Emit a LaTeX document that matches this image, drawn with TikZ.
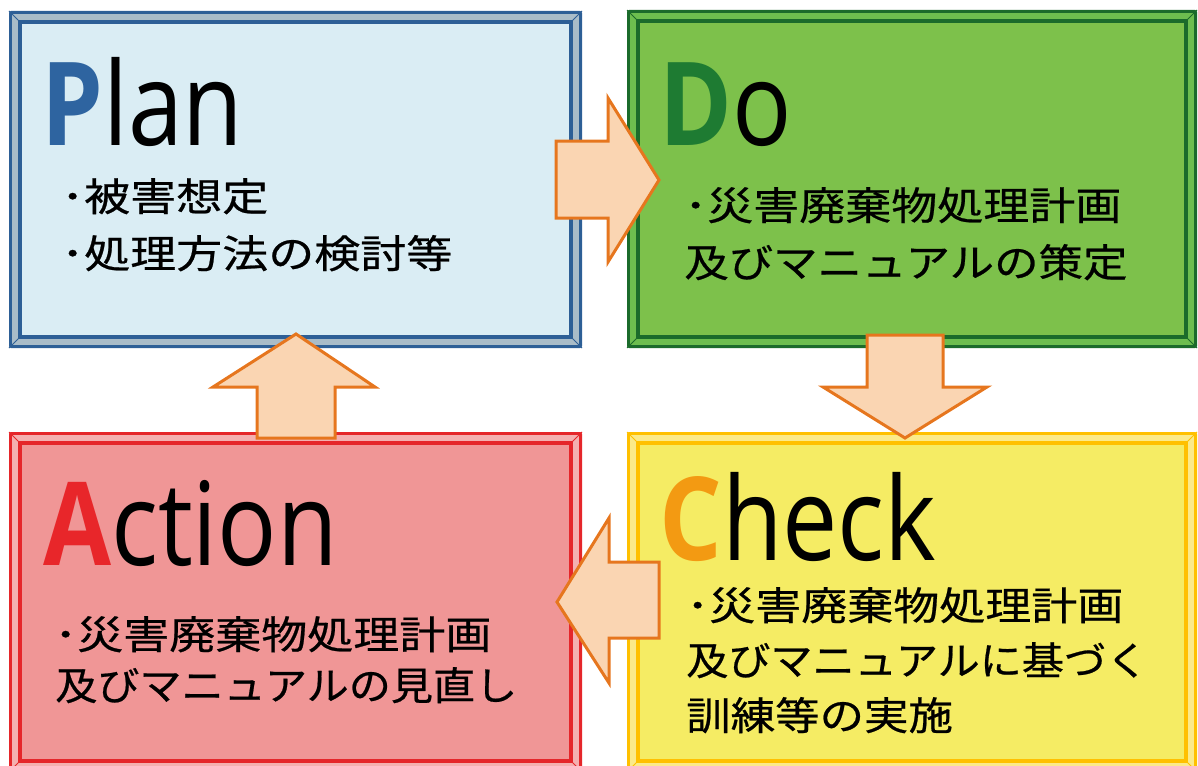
\documentclass[tikz,border=0pt]{standalone}
\usepackage{fontspec}
\newfontfamily\latinf[FakeStretch=0.85]{Open Sans}
\newfontfamily\jpf[FakeStretch=1.18,FakeBold=0.6]{Noto Sans CJK JP}
\newfontfamily\jpm[FakeStretch=1.14,FakeBold=0.6]{Noto Sans CJK JP}
\newfontfamily\jpn[FakeStretch=1.08,FakeBold=0.6]{Noto Sans CJK JP}
\definecolor{pdark}{HTML}{2D5F96}
\definecolor{plight}{HTML}{A9BCC8}
\definecolor{pfill}{HTML}{DAEDF4}
\definecolor{ddark}{HTML}{1B6B2B}
\definecolor{dlight}{HTML}{6DBE4F}
\definecolor{dfill}{HTML}{7DC14B}
\definecolor{cdark}{HTML}{FFC000}
\definecolor{clight}{HTML}{FBEA8A}
\definecolor{cfill}{HTML}{F5EC64}
\definecolor{adark}{HTML}{E5262A}
\definecolor{alight}{HTML}{F4B0B0}
\definecolor{afill}{HTML}{F09696}
\definecolor{pletter}{HTML}{2E64A0}
\definecolor{dletter}{HTML}{1E7B32}
\definecolor{cletter}{HTML}{F39A12}
\definecolor{aletter}{HTML}{E8262A}
\definecolor{arrfill}{HTML}{FAD5B2}
\definecolor{arrline}{HTML}{E6761E}
\newcommand\pdcaframe[7]{%
  \fill[#5, rounded corners=2] (#1,#2) rectangle (#3,#4);
  \fill[#6] ({#1+3},{#2+3}) rectangle ({#3-3},{#4-3});
  \fill[#5] ({#1+9},{#2+9}) rectangle ({#3-9},{#4-9});
  \fill[#7] ({#1+13},{#2+13}) rectangle ({#3-13},{#4-13});
  \draw[#5, line width=1] (#1,#2) -- ({#1+13},{#2+13});
  \draw[#5, line width=1] (#3,#2) -- ({#3-13},{#2+13});
  \draw[#5, line width=1] (#1,#4) -- ({#1+13},{#4-13});
  \draw[#5, line width=1] (#3,#4) -- ({#3-13},{#4-13});
}
\tikzset{
  jptext/.style={anchor=base west, inner sep=0, font=\jpf\fontsize{39}{39}\selectfont},
  jpmid/.style={anchor=base west, inner sep=0, font=\jpm\fontsize{39}{39}\selectfont},
  jpnarrow/.style={anchor=base west, inner sep=0, font=\jpn\fontsize{39}{39}\selectfont},
  bigtitle/.style={anchor=base west, inner sep=0, font=\latinf\fontsize{116}{116}\selectfont},
  blockarrow/.style={fill=arrfill, draw=arrline, line width=3, line join=miter},
}
\begin{document}
\begin{tikzpicture}[x=1pt,y=-1pt]
\useasboundingbox (0,0) rectangle (1198,765);
\clip (0,0) rectangle (1198,765);
% boxes
\pdcaframe{9}{11}{582}{348}{pdark}{plight}{pfill}
\pdcaframe{627}{10}{1197}{348}{ddark}{dlight}{dfill}
\pdcaframe{627}{432}{1197}{772}{cdark}{clight}{cfill}
\pdcaframe{9}{432}{582}{772}{adark}{alight}{afill}
\coordinate (plan) at (295,180);
\coordinate (do) at (912,180);
\coordinate (check) at (912,600);
\coordinate (action) at (295,600);
% titles
\node[bigtitle] (plant) at (41,145) {\textcolor{pletter}{\bfseries P}lan};
\node[bigtitle] (dot) at (659,145) {\textcolor{dletter}{\bfseries D}o};
\node[bigtitle] (checkt) at (659,560) {\textcolor{cletter}{\bfseries C}heck};
\node[bigtitle] (actiont) at (43,565) {\textcolor{aletter}{\bfseries A}ction};
% texts
\node[jptext] (plan1) at (61,211) {･被害想定};
\node[jptext] (plan2) at (61,268) {･処理方法の検討等};
\node[jptext] (do1) at (684,220) {･災害廃棄物処理計画};
\node[jpmid] (do2) at (684,277) {及びマニュアルの策定};
\node[jptext] (check1) at (686,620) {･災害廃棄物処理計画};
\node[jpnarrow] (check2) at (686,675) {及びマニュアルに基づく};
\node[jpmid] (check3) at (686,730) {訓練等の実施};
\node[jptext] (action1) at (54,649) {･災害廃棄物処理計画};
\node[jpnarrow] (action2) at (55,700) {及びマニュアルの見直し};
% arrows
\draw[blockarrow] (556,141) -- (608,141) -- (608,98) -- (659,180) -- (608,262) -- (608,218) -- (556,218) -- cycle;
\draw[blockarrow] (867,335) -- (943,335) -- (943,387) -- (987,387) -- (905,438) -- (823,387) -- (867,387) -- cycle;
\draw[blockarrow] (659,562) -- (609,562) -- (609,518) -- (557,602) -- (609,683) -- (609,638) -- (659,638) -- cycle;
\draw[blockarrow] (257,438) -- (257,387) -- (213,387) -- (296,334) -- (375,387) -- (335,387) -- (335,438) -- cycle;
\end{tikzpicture}
\end{document}
